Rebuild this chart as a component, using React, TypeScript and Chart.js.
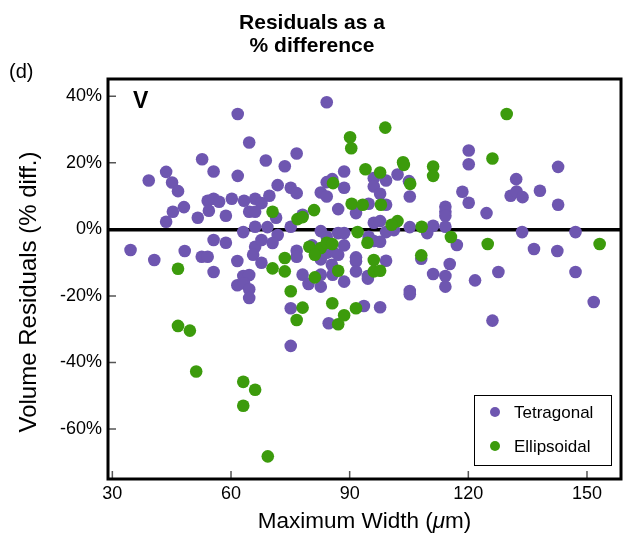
import React, { useEffect, useRef } from 'react';
import { Chart, registerables } from 'chart.js';

Chart.register(...registerables);

// Tetragonal fits: maximum width (µm) and volume residual (%)
const tetragonalX = [
  61.7, 64.6, 52.7, 68.8, 43.6, 55.6, 39.2, 45.1, 61.7, 46.6, 71.8, 54.1, 55.6, 57.0, 60.2, 63.3,
  66.1, 67.7, 69.7, 48.1, 45.3, 54.4, 58.7, 51.6, 64.6, 66.1, 71.4, 43.6, 63.1, 66.1, 69.2, 71.8,
  34.6, 40.6, 48.3, 55.6, 58.7, 52.6, 54.1, 61.6, 55.6, 66.1, 67.7, 70.5, 65.6, 67.7, 63.1, 64.6,
  61.6, 63.3, 64.6, 64.6,
  84.2, 76.6, 73.6, 88.6, 102.1, 96.1, 99.2, 96.1, 84.2, 85.6, 88.6, 105.0, 75.1, 76.6, 82.7, 84.2,
  97.7, 105.2, 94.8, 99.2, 87.1, 91.6, 78.1, 75.1, 96.1, 97.7, 99.2, 101.2, 105.2, 111.1, 114.2, 114.2,
  114.2, 114.2, 109.6, 82.7, 84.2, 87.1, 88.6, 94.8, 96.1, 97.7,
  80.5, 76.6, 76.6, 84.2, 81.5, 85.7, 87.1, 88.6, 91.6, 91.6, 99.2, 78.1, 82.7, 85.5, 85.7, 91.6,
  94.6, 94.6, 79.6, 82.7, 88.6, 82.7, 75.1, 84.7, 93.6, 97.7, 105.2, 105.2, 75.1, 108.1, 111.1, 114.2,
  114.2, 115.3,
  117.1, 121.7, 127.6, 126.1, 133.6, 136.6, 142.5, 147.1, 147.1, 151.7,
  120.1, 120.1, 142.7, 132.1, 118.5, 120.1, 130.7, 132.2, 133.7, 138.1, 142.7, 124.6,
];
const tetragonalY = [
  34.7, 26.1, 21.1, 20.7, 17.3, 17.4, 14.7, 14.1, 16.1, 11.5, 13.3, 8.6, 9.2, 8.3, 9.2, 8.6,
  9.2, 7.9, 10.1, 6.7, 5.3, 5.6, 4.1, 3.5, 5.3, 5.3, 3.5, 2.3, -0.8, 0.8, 0.7, -1.7,
  -6.2, -9.2, -6.5, -3.2, -4.0, -8.2, -8.2, -9.5, -12.8, -5.2, -3.2, -4.1, -7.6, -10.0, -14.0, -13.7,
  -16.8, -16.2, -18.0, -20.6,
  38.2, 22.8, 19.0, 17.4, 16.5, 15.4, 14.7, 12.9, 14.2, 15.1, 12.5, 14.5, 12.5, 10.9, 11.1, 9.9,
  10.7, 9.9, 7.7, 7.4, 6.1, 4.9, 4.4, 0.8, 2.0, 2.5, -0.8, -0.2, 0.7, 1.1, 6.8, 5.3,
  4.1, 0.8, -1.1, -0.5, -2.2, -1.1, -1.1, -2.2, -3.5, -3.7,
  -4.8, -6.4, -8.2, -7.0, -7.2, -6.6, -7.6, -4.8, -8.4, -9.6, -9.4, -13.6, -13.6, -10.6, -13.6, -12.6,
  -14.0, -14.8, -16.4, -17.2, -15.7, -9.0, -23.7, -28.2, -23.0, -23.4, -18.5, -19.5, -35.0, -8.8, -13.4, -14.0,
  -17.2, -10.4,
  -4.7, -15.3, -12.8, -27.4, -0.8, -5.9, -6.5, -0.8, -12.8, -21.8,
  23.7, 19.6, 18.8, 15.1, 11.3, 8.0, 10.1, 11.4, 9.7, 11.6, 7.4, 4.9,
];

// Ellipsoidal fits: maximum width (µm) and volume residual (%)
const ellipsoidalX = [
  70.5, 46.6, 70.5, 46.6, 49.6, 51.2, 63.1, 66.1, 63.1, 69.3,
  99.0, 90.1, 90.4, 103.5, 103.7, 111.1, 111.1, 94.0, 97.7, 85.8, 105.3, 90.5, 93.3, 97.9, 76.8, 78.1,
  81.0, 102.1, 100.6, 108.2, 115.6, 92.0, 94.5,
  79.8, 82.7, 84.2, 85.6, 81.2, 73.6, 73.6, 87.1, 96.1, 96.1, 97.7, 81.2, 75.1, 78.1, 76.6, 85.6,
  87.1, 88.6, 91.6, 108.1,
  129.7, 126.1, 124.9, 153.2,
];
const ellipsoidalY = [
  5.3, -11.8, -11.7, -29.0, -30.4, -42.7, -45.8, -48.2, -53.0, -68.2,
  30.6, 27.7, 24.4, 20.2, 19.4, 18.9, 16.1, 18.1, 17.1, 13.9, 13.7, 7.7, 7.4, 7.4, 3.1, 3.7,
  5.8, 2.5, 1.4, 0.8, -2.3, -0.8, -4.0,
  -5.2, -5.6, -4.0, -4.4, -7.6, -8.6, -12.6, -12.4, -9.2, -12.6, -12.4, -14.4, -18.6, -23.5, -27.2, -22.2,
  -28.5, -25.8, -23.7, -7.8,
  34.7, 21.3, -4.4, -4.4,
];

const seriesNames = ['Tetragonal', 'Ellipsoidal'];
const xTicks = [30, 60, 90, 120, 150];
const yTicks = [-60, -40, -20, 0, 20, 40];
const titleLines = ['Residuals as a', '% difference'];

const PURPLE = '#6e56b0';
const GREEN = '#3c9b0c';
const FONT = '"Liberation Sans", Arial, Helvetica, sans-serif';

const toPoints = (xs: number[], ys: number[]) => xs.map((x, i) => ({ x, y: ys[i] }));

const decorPlugin = {
  id: 'decor',
  afterDatasetsDraw(chart: any) {
    const { ctx, chartArea: a, scales } = chart;
    const xs = scales.x;
    const ys = scales.y;
    ctx.save();

    // inward tick marks
    ctx.strokeStyle = '#555';
    ctx.lineWidth = 1.5;
    ctx.beginPath();
    for (const v of xTicks) {
      const px = xs.getPixelForValue(v);
      ctx.moveTo(px, a.bottom);
      ctx.lineTo(px, a.bottom - 8);
    }
    for (const v of yTicks) {
      if (v === 0) continue;
      const py = ys.getPixelForValue(v);
      ctx.moveTo(a.left, py);
      ctx.lineTo(a.left + 8, py);
    }
    ctx.stroke();

    // plot frame
    ctx.strokeStyle = '#000';
    ctx.lineWidth = 3;
    ctx.strokeRect(a.left, a.top, a.right - a.left, a.bottom - a.top);

    // panel letter
    ctx.fillStyle = '#000';
    ctx.font = `bold 23px ${FONT}`;
    ctx.textAlign = 'left';
    ctx.textBaseline = 'alphabetic';
    ctx.fillText('V', a.left + 25, a.top + 29);

    // legend box
    const lw = 137;
    const lh = 70;
    const lx = a.right - 147;
    const ly = a.bottom - 84;
    ctx.fillStyle = '#fff';
    ctx.fillRect(lx, ly, lw, lh);
    ctx.strokeStyle = '#000';
    ctx.lineWidth = 1;
    ctx.strokeRect(lx + 0.5, ly + 0.5, lw, lh);
    chart.data.datasets.forEach((ds: any) => {
      const idx = seriesNames.indexOf(ds.label);
      const cy = ly + 17 + idx * 34;
      ctx.fillStyle = ds.backgroundColor;
      ctx.beginPath();
      ctx.arc(lx + 21, cy, 5, 0, Math.PI * 2);
      ctx.fill();
      ctx.fillStyle = '#000';
      ctx.font = `17px ${FONT}`;
      ctx.textBaseline = 'middle';
      ctx.fillText(ds.label, lx + 40, cy + 1);
    });
    ctx.restore();
  },
  afterDraw(chart: any) {
    const { ctx, chartArea: a, width } = chart;
    ctx.save();
    ctx.fillStyle = '#000';

    // title
    ctx.font = `bold 21px ${FONT}`;
    ctx.textAlign = 'center';
    ctx.textBaseline = 'middle';
    titleLines.forEach((t, i) => ctx.fillText(t, width / 2, 23 + i * 23));

    // panel tag
    ctx.font = `20px ${FONT}`;
    ctx.textAlign = 'left';
    ctx.fillText('(d)', 9, 72);

    // y axis title
    ctx.save();
    ctx.translate(29, 292);
    ctx.rotate(-Math.PI / 2);
    ctx.textAlign = 'center';
    ctx.font = `24px ${FONT}`;
    ctx.fillText('Volume Residuals (% diff.)', 0, 0);
    ctx.restore();

    // x axis title with italic mu
    const size = 22.5;
    const parts: [string, string][] = [
      ['Maximum Width (', `${size}px ${FONT}`],
      ['\u03bc', `italic ${size}px ${FONT}`],
      ['m)', `${size}px ${FONT}`],
    ];
    let total = 0;
    for (const [t, f] of parts) {
      ctx.font = f;
      total += ctx.measureText(t).width;
    }
    let x = (a.left + a.right) / 2 - total / 2;
    ctx.textAlign = 'left';
    for (const [t, f] of parts) {
      ctx.font = f;
      ctx.fillText(t, x, 522);
      x += ctx.measureText(t).width;
    }
    ctx.restore();
  },
};

export default function App() {
  const canvasRef = useRef<HTMLCanvasElement | null>(null);

  useEffect(() => {
    if (!canvasRef.current) return;
    const chart = new Chart(canvasRef.current, {
      type: 'scatter',
      data: {
        datasets: [
          {
            label: seriesNames[0],
            data: toPoints(tetragonalX, tetragonalY),
            backgroundColor: PURPLE,
            borderWidth: 0,
            pointRadius: 6.3,
            order: 1,
          },
          {
            label: seriesNames[1],
            data: toPoints(ellipsoidalX, ellipsoidalY),
            backgroundColor: GREEN,
            borderWidth: 0,
            pointRadius: 6.3,
            order: 0,
          },
        ],
      },
      options: {
        animation: false,
        responsive: true,
        maintainAspectRatio: false,
        layout: { autoPadding: false, padding: { left: 0, top: 79, right: 3, bottom: 0 } },
        plugins: {
          legend: { display: false },
          tooltip: { enabled: false },
          title: { display: false },
        },
        scales: {
          x: {
            type: 'linear',
            min: 28.9,
            max: 158.6,
            afterBuildTicks: (s: any) => {
              s.ticks = xTicks.map((v) => ({ value: v }));
            },
            afterFit: (s: any) => {
              s.height = 59;
              s.paddingRight = 0;
              s.paddingLeft = 0;
            },
            border: { display: false },
            grid: { display: false, drawTicks: false },
            ticks: {
              padding: 4,
              color: '#000',
              font: { family: FONT, size: 18 },
              maxRotation: 0,
              callback: (v: any) => String(v),
            },
          },
          y: {
            type: 'linear',
            min: -75,
            max: 45.2,
            afterBuildTicks: (s: any) => {
              s.ticks = yTicks.map((v) => ({ value: v }));
            },
            afterFit: (s: any) => {
              s.width = 108;
            },
            border: { display: false },
            grid: {
              drawTicks: false,
              color: (c: any) => (c.tick && c.tick.value === 0 ? '#000' : 'rgba(0,0,0,0)'),
              lineWidth: (c: any) => (c.tick && c.tick.value === 0 ? 3.5 : 0),
            },
            ticks: {
              padding: 6,
              color: '#000',
              font: { family: FONT, size: 18 },
              callback: (v: any) => `${v}%`,
            },
          },
        },
      },
      plugins: [decorPlugin],
    });
    return () => chart.destroy();
  }, []);

  return (
    <div style={{ position: 'absolute', left: 0, top: 0, width: 624, height: 538, background: '#fff' }}>
      <canvas ref={canvasRef} />
    </div>
  );
}
